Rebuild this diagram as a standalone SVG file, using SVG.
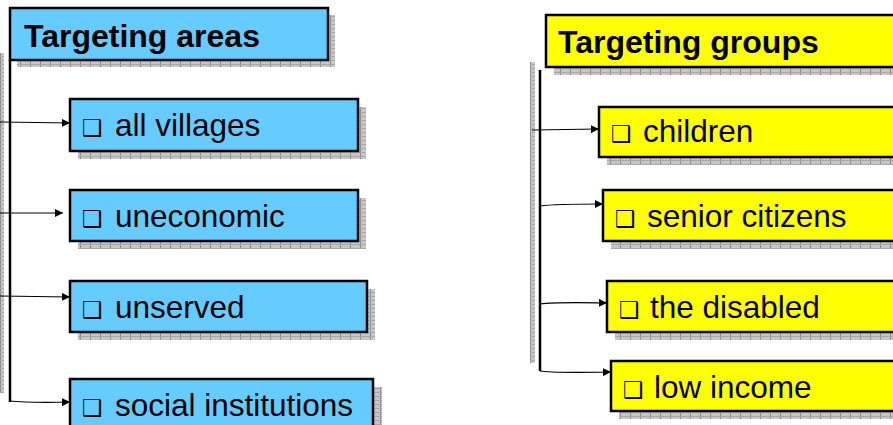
<svg xmlns="http://www.w3.org/2000/svg" width="893" height="425" viewBox="0 0 893 425">
<style>
.blue{fill:#66CCFF;stroke:#000;stroke-width:2.5}
.yel{fill:#FFFF00;stroke:#000;stroke-width:2.5}
.sh{fill:url(#hatch)}
.title{font-family:"Liberation Sans",Arial,sans-serif;font-weight:bold;font-size:32px;fill:#000}
.lbl{font-family:"Liberation Sans",Arial,sans-serif;font-size:31.5px;fill:#000}
.bul{font-family:"DejaVu Sans",sans-serif;font-size:23px}
.con{fill:none;stroke:#000;stroke-width:1.2;marker-end:url(#arr)}
.trunk{fill:none;stroke:#000;stroke-width:2.5}
</style>
<defs>
<pattern id="hatch" patternUnits="userSpaceOnUse" width="10" height="4">
<rect width="10" height="4" fill="#c6c6c6"/>
<rect width="1" height="4" fill="#8c8c8c"/>
<rect width="10" height="1" fill="#a8a8a8"/>
</pattern>
<marker id="arr" markerUnits="userSpaceOnUse" markerWidth="8" markerHeight="8" refX="8" refY="4" orient="auto">
<path d="M0,0 L8,4 L0,8 z" fill="#000"/>
</marker>
</defs>
<rect x="0" y="0" width="893" height="425" fill="#fff"/>

<!-- side hatched bars -->
<rect x="0" y="53" width="4" height="340" class="sh"/>
<rect x="530" y="62" width="5" height="301" class="sh"/>

<g id="connectors">
<line x1="10" y1="60" x2="10" y2="402" class="trunk"/>
<line x1="540" y1="70" x2="540" y2="371" class="trunk"/>
<path d="M0,122 L70,123" class="con"/>
<path d="M0,213 L63,213" class="con"/>
<path d="M0,296 L70,297" class="con"/>
<path d="M9,401 Q30,403 70,402" class="con"/>
<path d="M532,130 L599,129" class="con"/>
<path d="M540,206 Q555,204 603,204" class="con"/>
<path d="M540,304 Q555,302 607,303" class="con"/>
<path d="M540,371 Q550,373 611,372" class="con"/>
</g>

<g id="title-areas">
<rect x="17" y="15" width="318" height="52" class="sh"/>
<rect x="10" y="8" width="318" height="52" class="blue"/>
<text x="24" y="47" class="title">Targeting areas</text>
</g>
<g id="all-villages">
<rect x="78" y="107" width="288" height="52" class="sh"/>
<rect x="70" y="99" width="288" height="52" class="blue"/>
<text y="136" class="lbl"><tspan x="82" class="bul">❑</tspan><tspan x="115">all villages</tspan></text>
</g>
<g id="uneconomic">
<rect x="78" y="198" width="288" height="51" class="sh"/>
<rect x="70" y="190" width="288" height="51" class="blue"/>
<text y="227" class="lbl"><tspan x="82" class="bul">❑</tspan><tspan x="115">uneconomic</tspan></text>
</g>
<g id="unserved">
<rect x="78" y="289" width="297" height="51" class="sh"/>
<rect x="70" y="281" width="297" height="51" class="blue"/>
<text y="318" class="lbl"><tspan x="82" class="bul">❑</tspan><tspan x="115">unserved</tspan></text>
</g>
<g id="social-institutions">
<rect x="78" y="387" width="304" height="60" class="sh"/>
<rect x="70" y="379" width="303" height="60" class="blue"/>
<text y="416" class="lbl"><tspan x="82" class="bul">❑</tspan><tspan x="115">social institutions</tspan></text>
</g>

<g id="title-groups">
<rect x="554" y="23" width="360" height="52" class="sh"/>
<rect x="546" y="15" width="360" height="52" class="yel"/>
<text x="558" y="53" class="title">Targeting groups</text>
</g>
<g id="children">
<rect x="607" y="115" width="300" height="50" class="sh"/>
<rect x="599" y="107" width="300" height="50" class="yel"/>
<text y="142" class="lbl"><tspan x="611" class="bul">❑</tspan><tspan x="643">children</tspan></text>
</g>
<g id="senior-citizens">
<rect x="611" y="198" width="300" height="51" class="sh"/>
<rect x="603" y="190" width="300" height="51" class="yel"/>
<text y="227" class="lbl"><tspan x="615" class="bul">❑</tspan><tspan x="647">senior citizens</tspan></text>
</g>
<g id="the-disabled">
<rect x="615" y="289" width="300" height="51" class="sh"/>
<rect x="607" y="281" width="300" height="51" class="yel"/>
<text y="318" class="lbl"><tspan x="619" class="bul">❑</tspan><tspan x="650">the disabled</tspan></text>
</g>
<g id="low-income">
<rect x="619" y="369" width="300" height="50" class="sh"/>
<rect x="611" y="361" width="300" height="50" class="yel"/>
<text y="398" class="lbl"><tspan x="623" class="bul">❑</tspan><tspan x="654">low income</tspan></text>
</g>
</svg>
